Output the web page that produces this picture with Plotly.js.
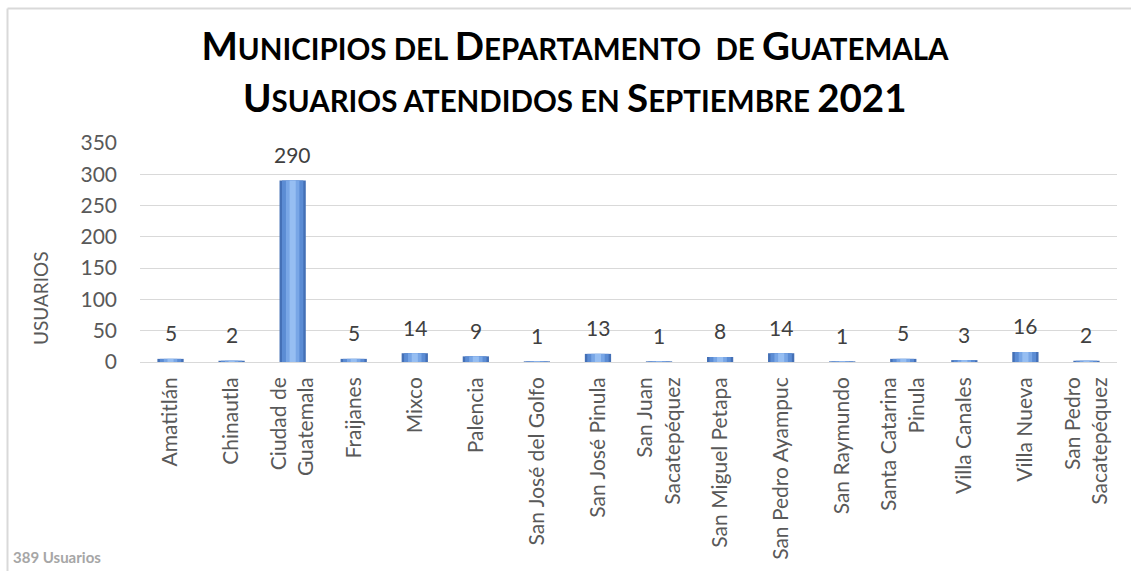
<!DOCTYPE html>
<html>
<head>
<meta charset="utf-8">
<script src="https://cdn.plot.ly/plotly-3.0.1.min.js"></script>
<style>html,body{margin:0;padding:0;background:#fff;}#chart{width:1131px;height:571px;}</style>
</head>
<body>
<div id="chart"></div>
<script>
const municipios = ["Amatitlán","Chinautla","Ciudad de<br>Guatemala","Fraijanes","Mixco","Palencia","San José del Golfo","San José Pinula","San Juan<br>Sacatepéquez","San Miguel Petapa","San Pedro Ayampuc","San Raymundo","Santa Catarina<br>Pinula","Villa Canales","Villa Nueva","San Pedro<br>Sacatepéquez"];
const usuarios = [5,2,290,5,14,9,1,13,1,8,14,1,5,3,16,2];
const yTicks = [0,50,100,150,200,250,300,350];
const SC = 'font-size:29.5px';
const titleLine1 = 'M<span style="' + SC + '">UNICIPIOS DEL </span>D<span style="' + SC + '">EPARTAMENTO  DE </span>G<span style="' + SC + '">UATEMALA</span>';
const titleLine2 = 'U<span style="' + SC + '">SUARIOS ATENDIDOS EN </span>S<span style="' + SC + '">EPTIEMBRE </span>2021';
const totalText = "389 Usuarios";
const yTitle = "USUARIOS";

const L = 140, R = 14, T = 143, B = 209, W = 1131, H = 571;
const pw = W - L - R, ph = H - T - B;
const px = v => (v - L) / pw;
const py = v => (H - B - v) / ph;

const layers = [
  {w: 0.43, c: "#4470B6"},
  {w: 0.35, c: "#5B8CD4"},
  {w: 0.22, c: "#78A6E6"},
  {w: 0.10, c: "#96BEF2"}
];
const traces = layers.map(l => ({
  type: "bar", x: municipios, y: usuarios, width: l.w,
  marker: {color: l.c, line: {width: 0}},
  hoverinfo: "skip", showlegend: false
}));

const annotations = municipios.map((m, i) => ({
  x: m, y: usuarios[i], xref: "x", yref: "y", text: String(usuarios[i]),
  showarrow: false, yanchor: "middle", yshift: 26,
  font: {family: "Lato, sans-serif", size: 21, color: "#404040"}
}));
annotations.push({
  xref: "paper", yref: "paper", x: px(575), y: py(97), xanchor: "center", yanchor: "middle",
  text: "<b>" + titleLine2 + "</b>", showarrow: false,
  font: {family: "Lato, sans-serif", size: 38.5, color: "#000"}
});
annotations.push({
  xref: "paper", yref: "paper", x: px(40), y: py(298), textangle: -90,
  text: yTitle, showarrow: false, xanchor: "center", yanchor: "middle",
  font: {family: "Lato, sans-serif", size: 19, color: "#595959"}
});
annotations.push({
  xref: "paper", yref: "paper", x: px(11), y: py(557), xanchor: "left", yanchor: "middle",
  text: "<b>" + totalText + "</b>", showarrow: false,
  font: {family: "Lato, sans-serif", size: 15, color: "#A6A6A6"}
});

const shapes = [
  {type: "line", xref: "paper", yref: "paper", x0: px(7.5), x1: px(7.5), y0: py(572), y1: py(8.5), line: {color: "#D9D9D9", width: 2}},
  {type: "line", xref: "paper", yref: "paper", x0: px(7.5), x1: px(1132), y0: py(8.5), y1: py(8.5), line: {color: "#D9D9D9", width: 2}}
];

const layout = {
  width: W, height: H,
  margin: {l: L, r: R, t: T, b: B},
  paper_bgcolor: "#fff", plot_bgcolor: "#fff",
  barmode: "overlay",
  title: {
    text: "<b>" + titleLine1 + "</b>",
    x: 575 / W, xanchor: "center", xref: "container",
    y: 1 - 47 / H, yanchor: "middle", yref: "container",
    font: {family: "Lato, sans-serif", size: 38.5, color: "#000"}
  },
  xaxis: {
    type: "category", tickangle: -90, ticks: "", showgrid: false,
    showline: false, zeroline: false, ticklabelstandoff: 10,
    tickfont: {family: "Lato, sans-serif", size: 21, color: "#595959"},
    fixedrange: true
  },
  yaxis: {
    range: [0, 350], tickvals: yTicks, ticktext: yTicks.map(String),
    showgrid: true, gridcolor: "#D9D9D9", gridwidth: 1,
    zeroline: true, zerolinecolor: "#D9D9D9", zerolinewidth: 1,
    showline: false, ticks: "", ticklabelstandoff: 22,
    tickfont: {family: "Lato, sans-serif", size: 21, color: "#595959"},
    fixedrange: true
  },
  annotations: annotations,
  shapes: shapes
};

Plotly.newPlot("chart", traces, layout, {displayModeBar: false, staticPlot: true});
</script>
</body>
</html>
